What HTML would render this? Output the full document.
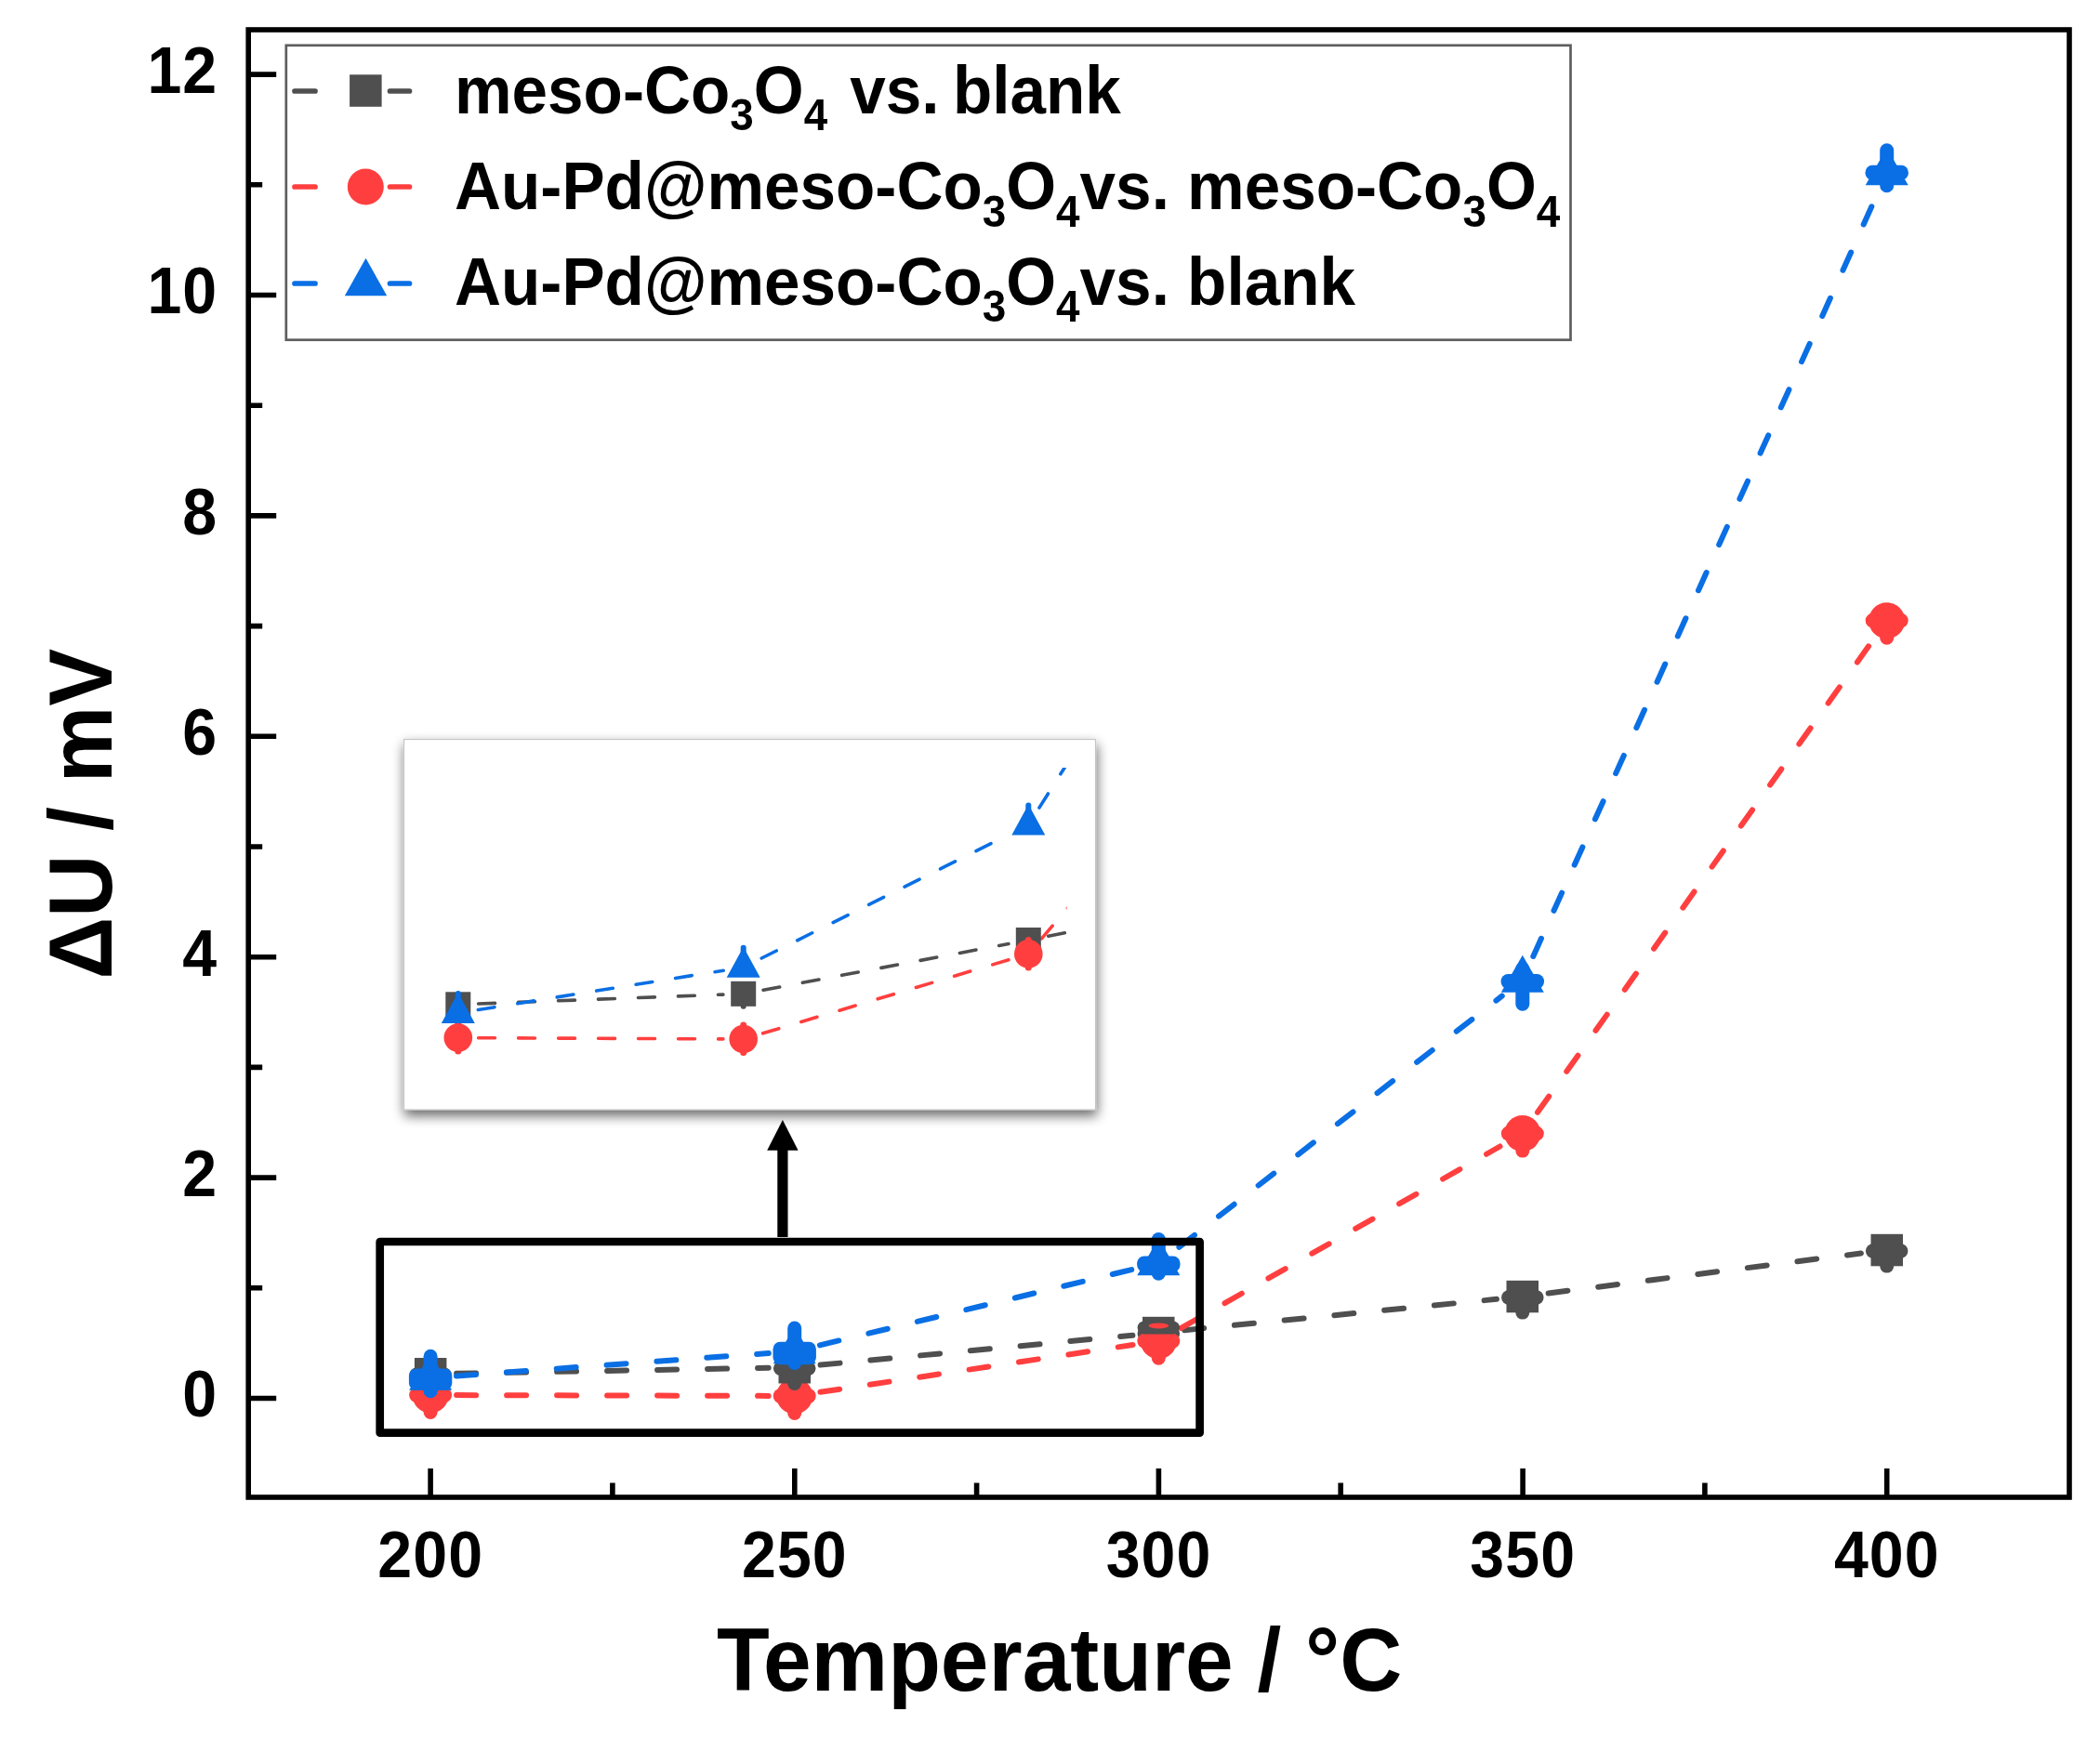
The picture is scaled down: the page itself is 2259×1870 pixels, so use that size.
<!DOCTYPE html>
<html lang="en"><head><meta charset="utf-8"><title>Chart</title>
<style>
html,body{margin:0;padding:0;background:#fff;}
body{width:2259px;height:1870px;overflow:hidden;}
svg{display:block;}
text{font-family:"Liberation Sans",sans-serif;font-weight:bold;fill:#000;}
</style></head><body>
<svg style="filter:blur(0.55px)" width="2259" height="1870" viewBox="0 0 2259 1870">
<defs>
<filter id="sh" x="-10%" y="-10%" width="120%" height="130%"><feGaussianBlur in="SourceAlpha" stdDeviation="6.5"/><feOffset dx="0.5" dy="6" result="b"/><feComponentTransfer><feFuncA type="linear" slope="0.6"/></feComponentTransfer><feMerge><feMergeNode/><feMergeNode in="SourceGraphic"/></feMerge></filter>
<clipPath id="ic"><rect x="440" y="826" width="707.5" height="360"/></clipPath>
</defs>
<rect width="2259" height="1870" fill="#fff"/>

<g id="lines">
<line x1="491.1" y1="1477.8" x2="826.7" y2="1471.8" stroke="#4f4f4f" stroke-width="6.0" stroke-dasharray="21.0 33.0" stroke-linecap="round"/>
<line x1="882.6" y1="1468.6" x2="1218.4" y2="1436.7" stroke="#4f4f4f" stroke-width="6.0" stroke-dasharray="21.0 33.0" stroke-linecap="round"/>
<line x1="1274.2" y1="1431.2" x2="1609.9" y2="1397.8" stroke="#4f4f4f" stroke-width="6.0" stroke-dasharray="21.0 33.0" stroke-linecap="round"/>
<line x1="1665.6" y1="1391.5" x2="2001.9" y2="1348.5" stroke="#4f4f4f" stroke-width="6.0" stroke-dasharray="21.0 33.0" stroke-linecap="round"/>
<line x1="491.1" y1="1501.1" x2="826.7" y2="1501.9" stroke="#ff3f3f" stroke-width="6.0" stroke-dasharray="21.0 33.0" stroke-linecap="round"/>
<line x1="882.4" y1="1497.8" x2="1218.6" y2="1447.0" stroke="#ff3f3f" stroke-width="6.0" stroke-dasharray="21.0 33.0" stroke-linecap="round"/>
<line x1="1270.6" y1="1428.9" x2="1613.5" y2="1233.5" stroke="#ff3f3f" stroke-width="6.0" stroke-dasharray="21.0 33.0" stroke-linecap="round"/>
<line x1="1654.0" y1="1196.8" x2="2013.5" y2="690.5" stroke="#ff3f3f" stroke-width="6.0" stroke-dasharray="21.0 33.0" stroke-linecap="round"/>
<line x1="491.0" y1="1480.5" x2="826.8" y2="1456.0" stroke="#0a6fe4" stroke-width="6.0" stroke-dasharray="21.0 33.0" stroke-linecap="round"/>
<line x1="881.9" y1="1447.4" x2="1219.1" y2="1365.6" stroke="#0a6fe4" stroke-width="6.0" stroke-dasharray="21.0 33.0" stroke-linecap="round"/>
<line x1="1268.4" y1="1341.8" x2="1615.7" y2="1071.7" stroke="#0a6fe4" stroke-width="6.0" stroke-dasharray="21.0 33.0" stroke-linecap="round"/>
<line x1="1649.3" y1="1029.0" x2="2018.2" y2="211.5" stroke="#0a6fe4" stroke-width="6.0" stroke-dasharray="21.0 33.0" stroke-linecap="round"/>
</g>
<g id="markers">
<circle cx="463.1" cy="1501.0" r="19.5" fill="#ff3f3f"/>
<line x1="448.1" y1="1501.0" x2="478.1" y2="1501.0" stroke="#ff3f3f" stroke-width="16" stroke-linecap="round"/>
<line x1="463.1" y1="1496.5" x2="463.1" y2="1519.5" stroke="#ff3f3f" stroke-width="15" stroke-linecap="round"/>
<circle cx="854.7" cy="1502.0" r="19.5" fill="#ff3f3f"/>
<line x1="839.7" y1="1502.0" x2="869.7" y2="1502.0" stroke="#ff3f3f" stroke-width="16" stroke-linecap="round"/>
<line x1="854.7" y1="1497.5" x2="854.7" y2="1520.5" stroke="#ff3f3f" stroke-width="15" stroke-linecap="round"/>
<circle cx="1637.8" cy="1219.6" r="19.5" fill="#ff3f3f"/>
<line x1="1622.8" y1="1219.6" x2="1652.8" y2="1219.6" stroke="#ff3f3f" stroke-width="16" stroke-linecap="round"/>
<line x1="1637.8" y1="1215.1" x2="1637.8" y2="1238.1" stroke="#ff3f3f" stroke-width="15" stroke-linecap="round"/>
<circle cx="2029.7" cy="667.7" r="19.5" fill="#ff3f3f"/>
<line x1="2014.7" y1="667.7" x2="2044.7" y2="667.7" stroke="#ff3f3f" stroke-width="16" stroke-linecap="round"/>
<line x1="2029.7" y1="663.2" x2="2029.7" y2="686.2" stroke="#ff3f3f" stroke-width="15" stroke-linecap="round"/>
<rect x="445.9" y="1461.0" width="34.5" height="34.5" fill="#4f4f4f"/>
<line x1="448.1" y1="1479.3" x2="478.1" y2="1479.3" stroke="#4f4f4f" stroke-width="15.5" stroke-linecap="round"/>
<line x1="463.1" y1="1475.8" x2="463.1" y2="1495.4" stroke="#4f4f4f" stroke-width="15" stroke-linecap="round"/>
<rect x="837.5" y="1454.0" width="34.5" height="34.5" fill="#4f4f4f"/>
<line x1="839.7" y1="1472.3" x2="869.7" y2="1472.3" stroke="#4f4f4f" stroke-width="15.5" stroke-linecap="round"/>
<line x1="854.7" y1="1468.8" x2="854.7" y2="1488.4" stroke="#4f4f4f" stroke-width="15" stroke-linecap="round"/>
<rect x="1229.0" y="1416.8" width="34.5" height="34.5" fill="#4f4f4f"/>
<line x1="1231.3" y1="1435.0" x2="1261.3" y2="1435.0" stroke="#4f4f4f" stroke-width="15.5" stroke-linecap="round"/>
<line x1="1246.3" y1="1431.5" x2="1246.3" y2="1451.1" stroke="#4f4f4f" stroke-width="15" stroke-linecap="round"/>
<rect x="1620.5" y="1377.8" width="34.5" height="34.5" fill="#4f4f4f"/>
<line x1="1622.8" y1="1396.0" x2="1652.8" y2="1396.0" stroke="#4f4f4f" stroke-width="15.5" stroke-linecap="round"/>
<line x1="1637.8" y1="1392.5" x2="1637.8" y2="1412.1" stroke="#4f4f4f" stroke-width="15" stroke-linecap="round"/>
<rect x="2012.5" y="1327.8" width="34.5" height="34.5" fill="#4f4f4f"/>
<line x1="2014.7" y1="1346.0" x2="2044.7" y2="1346.0" stroke="#4f4f4f" stroke-width="15.5" stroke-linecap="round"/>
<line x1="2029.7" y1="1342.5" x2="2029.7" y2="1362.1" stroke="#4f4f4f" stroke-width="15" stroke-linecap="round"/>
<circle cx="1246.3" cy="1442.8" r="19.5" fill="#ff3f3f"/>
<line x1="1231.3" y1="1442.8" x2="1261.3" y2="1442.8" stroke="#ff3f3f" stroke-width="16" stroke-linecap="round"/>
<line x1="1246.3" y1="1438.3" x2="1246.3" y2="1461.3" stroke="#ff3f3f" stroke-width="15" stroke-linecap="round"/>
<rect x="1223.6" y="1421.5" width="45.4" height="14" rx="7" fill="#4f4f4f"/>
<ellipse cx="1246.3" cy="1426.4" rx="10.8" ry="3" fill="#ff3f3f"/>
<polygon points="463.1,1455.8 440.1,1495.8 486.1,1495.8" fill="#0a6fe4"/>
<line x1="463.1" y1="1459.2" x2="463.1" y2="1496.7" stroke="#0a6fe4" stroke-width="15" stroke-linecap="round"/>
<rect x="439.9" y="1472.5" width="46.4" height="23.0" rx="7.6" fill="#0a6fe4"/>
<polygon points="854.7,1427.3 831.7,1467.3 877.7,1467.3" fill="#0a6fe4"/>
<line x1="854.7" y1="1429.0" x2="854.7" y2="1466.5" stroke="#0a6fe4" stroke-width="15" stroke-linecap="round"/>
<rect x="831.5" y="1443.8" width="46.4" height="24.4" rx="7.6" fill="#0a6fe4"/>
<polygon points="1246.3,1332.3 1223.3,1372.3 1269.3,1372.3" fill="#0a6fe4"/>
<line x1="1246.3" y1="1333.5" x2="1246.3" y2="1370.2" stroke="#0a6fe4" stroke-width="15" stroke-linecap="round"/>
<rect x="1223.1" y="1351.5" width="46.4" height="17.0" rx="7.6" fill="#0a6fe4"/>
<polygon points="1637.8,1027.8 1614.8,1067.8 1660.8,1067.8" fill="#0a6fe4"/>
<line x1="1637.8" y1="1042.5" x2="1637.8" y2="1080.2" stroke="#0a6fe4" stroke-width="15" stroke-linecap="round"/>
<rect x="1614.6" y="1048.0" width="46.4" height="16.0" rx="7.6" fill="#0a6fe4"/>
<polygon points="2029.7,159.3 2006.7,199.3 2052.7,199.3" fill="#0a6fe4"/>
<line x1="2029.7" y1="161.8" x2="2029.7" y2="199.8" stroke="#0a6fe4" stroke-width="15" stroke-linecap="round"/>
<rect x="2006.5" y="177.8" width="46.4" height="16.0" rx="7.6" fill="#0a6fe4"/>
</g>
<rect x="267.2" y="32.0" width="1958.8" height="1579.0" fill="none" stroke="#000" stroke-width="5.6"/>
<path d="M267.2 1504.5h30 M267.2 1385.8h15 M267.2 1267.1h30 M267.2 1148.4h15 M267.2 1029.7h30 M267.2 911.0h15 M267.2 792.3h30 M267.2 673.6h15 M267.2 554.9h30 M267.2 436.2h15 M267.2 317.5h30 M267.2 198.8h15 M267.2 80.1h30 M463.1 1611.0v-31 M658.9 1611.0v-15.5 M854.8 1611.0v-31 M1050.6 1611.0v-15.5 M1246.4 1611.0v-31 M1442.2 1611.0v-15.5 M1638.1 1611.0v-31 M1833.9 1611.0v-15.5 M2029.7 1611.0v-31" stroke="#000" stroke-width="5.6" fill="none"/>
<g font-size="70.5" letter-spacing="1.1">
<text transform="translate(234.2,1524.4) scale(0.94,1)" text-anchor="end">0</text>
<text transform="translate(234.2,1287.0) scale(0.94,1)" text-anchor="end">2</text>
<text transform="translate(234.2,1049.6) scale(0.94,1)" text-anchor="end">4</text>
<text transform="translate(234.2,812.2) scale(0.94,1)" text-anchor="end">6</text>
<text transform="translate(234.2,574.8) scale(0.94,1)" text-anchor="end">8</text>
<text transform="translate(234.2,337.4) scale(0.94,1)" text-anchor="end">10</text>
<text transform="translate(234.2,100.0) scale(0.94,1)" text-anchor="end">12</text>
<text transform="translate(463.2,1697.2) scale(0.94,1)" text-anchor="middle">200</text>
<text transform="translate(854.9,1697.2) scale(0.94,1)" text-anchor="middle">250</text>
<text transform="translate(1246.5,1697.2) scale(0.94,1)" text-anchor="middle">300</text>
<text transform="translate(1638.2,1697.2) scale(0.94,1)" text-anchor="middle">350</text>
<text transform="translate(2029.8,1697.2) scale(0.94,1)" text-anchor="middle">400</text>
</g>
<text transform="translate(1139.7,1819.3) scale(0.9724,1)" font-size="95.5" text-anchor="middle">Temperature / °C</text>
<text transform="translate(120.3,875.7) rotate(-90) scale(0.9724,1)" font-size="95.5" text-anchor="middle">ΔU / mV</text>
<rect x="307.8" y="48.8" width="1381.7" height="316.9" fill="#fff" stroke="#5e5e5e" stroke-width="2.7"/>
<line x1="317" y1="98" x2="339" y2="98" stroke="#4f4f4f" stroke-width="5.7" stroke-linecap="round"/>
<line x1="419.5" y1="98" x2="440.5" y2="98" stroke="#4f4f4f" stroke-width="5.7" stroke-linecap="round"/>
<rect x="376.1" y="80.3" width="34.5" height="34.5" fill="#4f4f4f"/>
<line x1="317" y1="201" x2="339" y2="201" stroke="#ff3f3f" stroke-width="5.7" stroke-linecap="round"/>
<line x1="419.5" y1="201" x2="440.5" y2="201" stroke="#ff3f3f" stroke-width="5.7" stroke-linecap="round"/>
<circle cx="393.3" cy="201.0" r="19.5" fill="#ff3f3f"/>
<line x1="317" y1="305" x2="339" y2="305" stroke="#0a6fe4" stroke-width="5.7" stroke-linecap="round"/>
<line x1="419.5" y1="305" x2="440.5" y2="305" stroke="#0a6fe4" stroke-width="5.7" stroke-linecap="round"/>
<polygon points="393.5,277.7 370.8,318.2 416.2,318.2" fill="#0a6fe4"/>
<g font-size="72.5">
<text transform="translate(489,121.7) scale(0.9554,1)">meso-Co<tspan font-size="48" dy="18.5">3</tspan><tspan dy="-18.5">O</tspan><tspan font-size="48" dy="18.5">4</tspan><tspan dy="-18.5" dx="5"> vs.</tspan><tspan dx="-5"> blank</tspan></text>
<text transform="translate(489,225.2) scale(0.9554,1)">Au-Pd@meso-Co<tspan font-size="48" dy="18.5">3</tspan><tspan dy="-18.5">O</tspan><tspan font-size="48" dy="18.5">4</tspan><tspan dy="-18.5">vs. meso-Co</tspan><tspan font-size="48" dy="18.5">3</tspan><tspan dy="-18.5">O</tspan><tspan font-size="48" dy="18.5">4</tspan></text>
<text transform="translate(489,327.6) scale(0.9554,1)">Au-Pd@meso-Co<tspan font-size="48" dy="18.5">3</tspan><tspan dy="-18.5">O</tspan><tspan font-size="48" dy="18.5">4</tspan><tspan dy="-18.5">vs. blank</tspan></text>
</g>
<rect x="434.5" y="795.5" width="744" height="398.5" fill="#fff" stroke="#c4c4c4" stroke-width="1.2" filter="url(#sh)"/>
<g clip-path="url(#ic)">
<line x1="514.6" y1="1080.0" x2="777.9" y2="1070.1" stroke="#4f4f4f" stroke-width="3.6" stroke-dasharray="17.9 25.1" stroke-linecap="round"/>
<line x1="821.1" y1="1065.3" x2="1084.9" y2="1015.5" stroke="#4f4f4f" stroke-width="3.6" stroke-dasharray="17.9 25.1" stroke-linecap="round"/>
<line x1="1127.7" y1="1007.2" x2="1391.5" y2="954.7" stroke="#4f4f4f" stroke-width="3.6" stroke-dasharray="17.9 25.1" stroke-linecap="round"/>
<line x1="514.6" y1="1116.7" x2="777.9" y2="1117.9" stroke="#ff3f3f" stroke-width="3.6" stroke-dasharray="17.9 25.1" stroke-linecap="round"/>
<line x1="820.6" y1="1111.8" x2="1085.4" y2="1032.6" stroke="#ff3f3f" stroke-width="3.6" stroke-dasharray="17.9 25.1" stroke-linecap="round"/>
<line x1="1120.5" y1="1009.8" x2="1398.7" y2="683.9" stroke="#ff3f3f" stroke-width="3.6" stroke-dasharray="17.9 25.1" stroke-linecap="round"/>
<line x1="514.3" y1="1086.5" x2="778.2" y2="1044.2" stroke="#0a6fe4" stroke-width="3.6" stroke-dasharray="17.9 25.1" stroke-linecap="round"/>
<line x1="819.2" y1="1031.0" x2="1086.8" y2="897.2" stroke="#0a6fe4" stroke-width="3.6" stroke-dasharray="17.9 25.1" stroke-linecap="round"/>
<line x1="1117.9" y1="869.1" x2="1401.3" y2="420.9" stroke="#0a6fe4" stroke-width="3.6" stroke-dasharray="17.9 25.1" stroke-linecap="round"/>
<rect x="479.3" y="1067.3" width="27" height="27" fill="#4f4f4f"/>
<line x1="492.8" y1="1078.8" x2="492.8" y2="1094.3" stroke="#4f4f4f" stroke-width="6" stroke-linecap="round"/>
<rect x="786.2" y="1055.8" width="27" height="27" fill="#4f4f4f"/>
<line x1="799.7" y1="1067.3" x2="799.7" y2="1082.8" stroke="#4f4f4f" stroke-width="6" stroke-linecap="round"/>
<rect x="1092.8" y="998.0" width="27" height="27" fill="#4f4f4f"/>
<line x1="1106.3" y1="1009.5" x2="1106.3" y2="1025.0" stroke="#4f4f4f" stroke-width="6" stroke-linecap="round"/>
<circle cx="492.8" cy="1116.6" r="15.3" fill="#ff3f3f"/>
<line x1="492.8" y1="1101.6" x2="492.8" y2="1131.1" stroke="#ff3f3f" stroke-width="7" stroke-linecap="round"/>
<circle cx="799.7" cy="1118.0" r="15.3" fill="#ff3f3f"/>
<line x1="799.7" y1="1103.0" x2="799.7" y2="1132.5" stroke="#ff3f3f" stroke-width="7" stroke-linecap="round"/>
<circle cx="1106.3" cy="1026.4" r="15.3" fill="#ff3f3f"/>
<line x1="1106.3" y1="1011.4" x2="1106.3" y2="1040.9" stroke="#ff3f3f" stroke-width="7" stroke-linecap="round"/>
<polygon points="492.8,1068.0 474.8,1101.0 510.8,1101.0" fill="#0a6fe4"/>
<line x1="492.8" y1="1069.0" x2="492.8" y2="1095.0" stroke="#0a6fe4" stroke-width="6" stroke-linecap="round"/>
<polygon points="799.7,1018.7 781.7,1051.7 817.7,1051.7" fill="#0a6fe4"/>
<line x1="799.7" y1="1019.7" x2="799.7" y2="1045.7" stroke="#0a6fe4" stroke-width="6" stroke-linecap="round"/>
<polygon points="1106.3,865.5 1088.3,898.5 1124.3,898.5" fill="#0a6fe4"/>
<line x1="1106.3" y1="866.5" x2="1106.3" y2="892.5" stroke="#0a6fe4" stroke-width="6" stroke-linecap="round"/>
</g>
<path d="M841.9 1331V1236" stroke="#000" stroke-width="11.2" fill="none"/>
<polygon points="841.9,1204.9 825.2,1237.7 858.6,1237.7" fill="#000"/>
<rect x="408.7" y="1336" width="881.9" height="205.7" fill="none" stroke="#000" stroke-width="8.7" stroke-linejoin="round"/>
</svg></body></html>
